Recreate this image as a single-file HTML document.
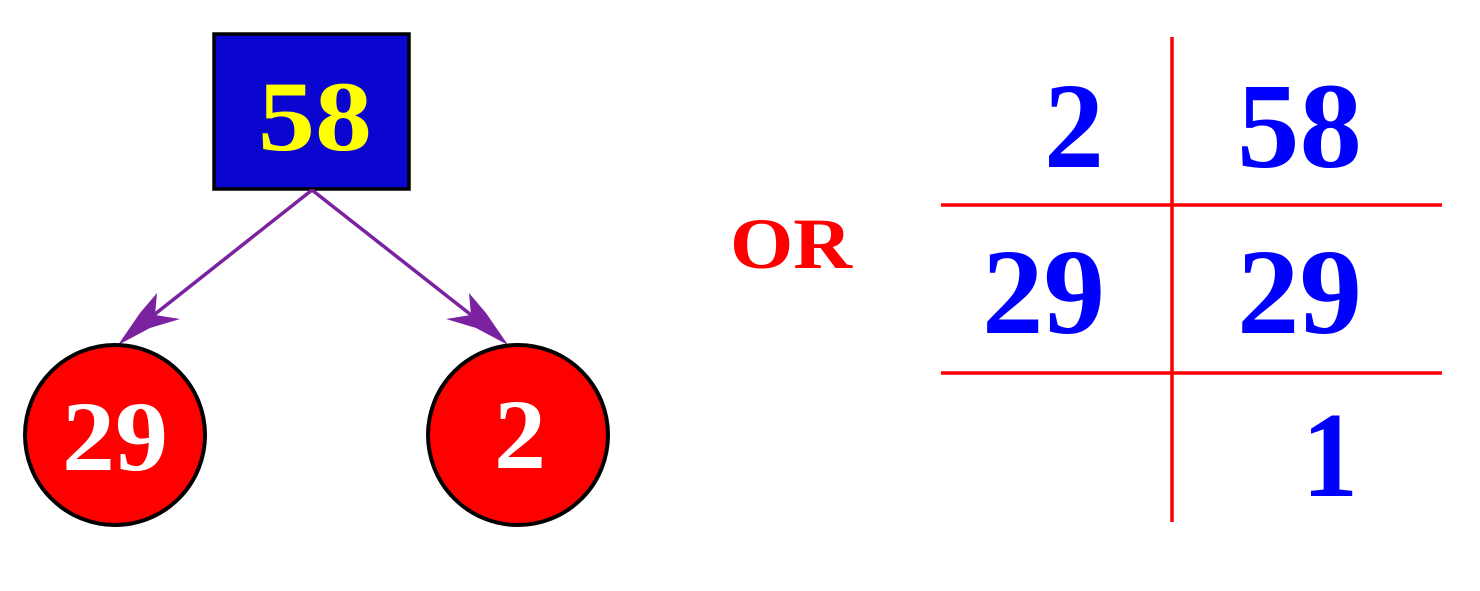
<!DOCTYPE html>
<html><head><style>
body{margin:0;background:#fff;width:1480px;height:586px;overflow:hidden;}
text{font-family:"Liberation Serif",serif;font-weight:bold;}
</style></head><body>
<svg width="1480" height="586" viewBox="0 0 1480 586">
<rect x="214" y="34" width="195" height="155" fill="#0b06cf" stroke="#000" stroke-width="3.5"/>
<text x="258" y="150" font-size="100" fill="#ffff00" textLength="114" lengthAdjust="spacingAndGlyphs">58</text>
<line x1="312" y1="190" x2="150" y2="318" stroke="#7a22a0" stroke-width="3.5"/>
<line x1="312" y1="190" x2="475" y2="318" stroke="#7a22a0" stroke-width="3.5"/>
<path d="M118,345 L140,313 L157,293 L155,315 L180,319 L150,328 Z" fill="#7a22a0"/>
<path d="M508,345 L486,313 L469,293 L471,315 L446,319 L476,328 Z" fill="#7a22a0"/>
<ellipse cx="115" cy="435" rx="90" ry="90" fill="#ff0000" stroke="#000" stroke-width="4"/>
<text x="62" y="470" font-size="100" fill="#fff" textLength="106" lengthAdjust="spacingAndGlyphs">29</text>
<ellipse cx="518" cy="435" rx="90" ry="90" fill="#ff0000" stroke="#000" stroke-width="4"/>
<text x="494" y="468" font-size="100" fill="#fff" textLength="52" lengthAdjust="spacingAndGlyphs">2</text>
<text x="730" y="268" font-size="72" fill="#ff0000" textLength="122" lengthAdjust="spacingAndGlyphs">OR</text>
<line x1="1172" y1="37" x2="1172" y2="522" stroke="#ff0000" stroke-width="3.5"/>
<line x1="941" y1="205" x2="1442" y2="205" stroke="#ff0000" stroke-width="3.5"/>
<line x1="941" y1="373" x2="1442" y2="373" stroke="#ff0000" stroke-width="3.5"/>
<text x="1044" y="167" font-size="122" fill="#0000ff" textLength="60" lengthAdjust="spacingAndGlyphs">2</text>
<text x="1237" y="167" font-size="122" fill="#0000ff" textLength="125" lengthAdjust="spacingAndGlyphs">58</text>
<text x="982" y="333" font-size="122" fill="#0000ff" textLength="123" lengthAdjust="spacingAndGlyphs">29</text>
<text x="1237" y="333" font-size="122" fill="#0000ff" textLength="125" lengthAdjust="spacingAndGlyphs">29</text>
<text x="1302" y="496" font-size="122" fill="#0000ff" textLength="56" lengthAdjust="spacingAndGlyphs">1</text>
</svg>
</body></html>
